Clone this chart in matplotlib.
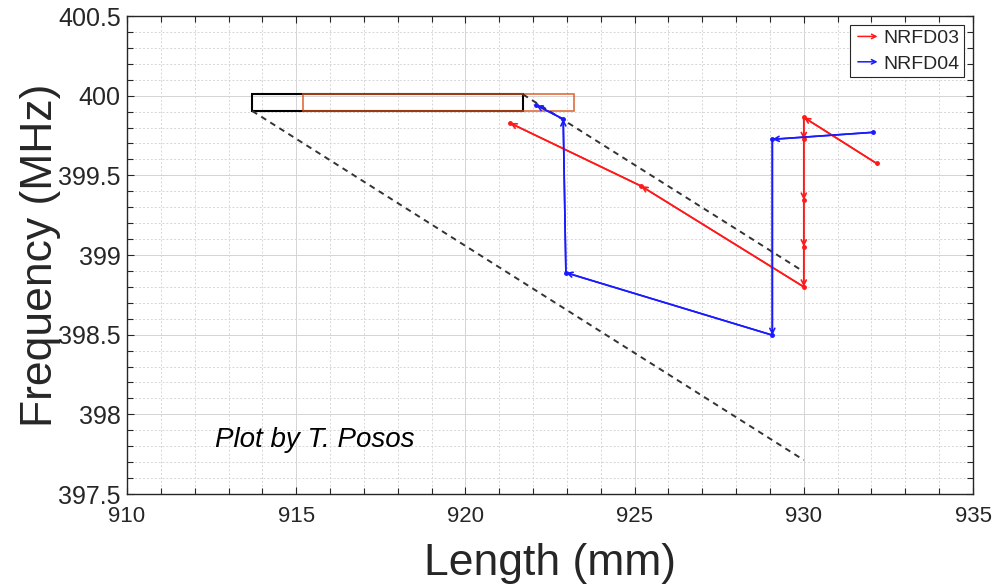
import matplotlib
matplotlib.use("Agg")
import matplotlib.pyplot as plt
from matplotlib.lines import Line2D
from matplotlib.patches import Rectangle, FancyArrowPatch
from matplotlib.legend_handler import HandlerBase
from matplotlib.ticker import MultipleLocator, FuncFormatter

plt.rcParams['font.family'] = ['Liberation Sans', 'DejaVu Sans']

# ---------------- data ----------------
series_names = ["NRFD03", "NRFD04"]
red_x = [932.15, 930.0, 930.0, 930.0, 930.0, 930.0, 925.19, 921.32]
red_y = [399.575, 399.864, 399.726, 399.345, 399.052, 398.80, 399.433, 399.828]
blue_x = [932.05, 929.07, 929.07, 922.97, 922.89, 922.09]
blue_y = [399.77, 399.726, 398.497, 398.889, 399.853, 399.941]

dash1_x = [913.7, 930.0]
dash1_y = [399.904, 397.713]
dash2_x = [921.7, 930.0]
dash2_y = [400.008, 398.895]

black_rect = (913.7, 399.904, 8.0, 0.104)   # x0, y0, width, height
orange_rect = (915.2, 399.904, 8.0, 0.104)

x_ticks = [910, 915, 920, 925, 930, 935]
y_ticks = [397.5, 398, 398.5, 399, 399.5, 400, 400.5]

note_text = "Plot by T. Posos"
note_pos = (912.6, 397.796)

# ---------------- figure ----------------
W, H = 996, 586
fig = plt.figure(figsize=(W / 100, H / 100), dpi=100)
ax = fig.add_axes([127 / W, 1 - 494 / H, 846 / W, 478 / H])

ax.set_xlim(910, 935)
ax.set_ylim(397.5, 400.5)
ax.set_xticks(x_ticks)
ax.set_yticks(y_ticks)
ax.xaxis.set_minor_locator(MultipleLocator(1))
ax.yaxis.set_minor_locator(MultipleLocator(0.1))
ax.yaxis.set_major_formatter(FuncFormatter(lambda v, p: f"{v:g}"))
ax.xaxis.set_major_formatter(FuncFormatter(lambda v, p: f"{v:g}"))

ax.grid(True, which='major', color='#d4d4d4', lw=0.7, ls='-')
ax.grid(True, which='minor', color='#d6d6d6', lw=0.7, ls=(0, (2, 2)))
ax.set_axisbelow(True)

dark = '#262626'
for s in ax.spines.values():
    s.set_color(dark)
    s.set_linewidth(1.0)
ax.tick_params(which='both', direction='in', top=True, right=True,
               color=dark, labelcolor=dark, width=0.8)
ax.tick_params(which='major', length=5)
ax.tick_params(which='minor', length=4)
ax.tick_params(axis='y', which='major', labelsize=18, pad=4.5)
ax.tick_params(axis='x', which='major', labelsize=16, pad=9)

ax.set_xlabel("Length (mm)", fontsize=32, color=dark, labelpad=11)
ax.set_ylabel("Frequency (MHz)", fontsize=32, color=dark, labelpad=-2)

# rectangles
ax.add_patch(Rectangle(black_rect[:2], black_rect[2], black_rect[3],
                       fill=False, edgecolor='black', lw=1.5, zorder=3))
ax.add_patch(Rectangle(orange_rect[:2], orange_rect[2], orange_rect[3],
                       fill=False, edgecolor='#D95319', lw=1.2, alpha=0.85, zorder=3))

# dashed guide lines
ax.plot(dash1_x, dash1_y, color='#333333', lw=1.4, ls=(0, (3, 2.5)), zorder=3)
ax.plot(dash2_x, dash2_y, color='#333333', lw=1.4, ls=(0, (3, 2.5)), zorder=3)


def draw_series(xs, ys, color):
    ax.plot(xs, ys, color=color, lw=1.2, marker='.', markersize=5, zorder=4)
    for i in range(len(xs) - 1):
        ax.annotate('', xy=(xs[i + 1], ys[i + 1]), xytext=(xs[i], ys[i]),
                    arrowprops=dict(arrowstyle='->', color=color, lw=1.2,
                                    shrinkA=0, shrinkB=0, mutation_scale=9),
                    zorder=5)


draw_series(red_x, red_y, '#ff1a1a')
draw_series(blue_x, blue_y, '#1a1aff')

ax.text(note_pos[0], note_pos[1], note_text, fontsize=20, style='italic',
        color='black', va='baseline', ha='left', zorder=6)


class ArrowHandler(HandlerBase):
    def create_artists(self, legend, orig_handle, xdescent, ydescent,
                       width, height, fontsize, trans):
        y = height / 2 - ydescent
        arr = FancyArrowPatch((-xdescent, y), (-xdescent + width, y),
                              arrowstyle='->', mutation_scale=8,
                              color=orig_handle.get_color(), lw=1.1,
                              transform=trans)
        return [arr]


h1 = Line2D([], [], color='#ff1a1a')
h2 = Line2D([], [], color='#1a1aff')
leg = ax.legend([h1, h2], series_names, loc='upper right',
                handler_map={h1: ArrowHandler(), h2: ArrowHandler()},
                fontsize=14, frameon=True, fancybox=False, framealpha=1,
                edgecolor='#262626', borderaxespad=0.45, handlelength=1.3,
                handletextpad=0.15, borderpad=0.25, labelspacing=0.4)
leg.get_frame().set_linewidth(0.8)
for t in leg.get_texts():
    t.set_color(dark)

fig.savefig("out.png", dpi=100)
